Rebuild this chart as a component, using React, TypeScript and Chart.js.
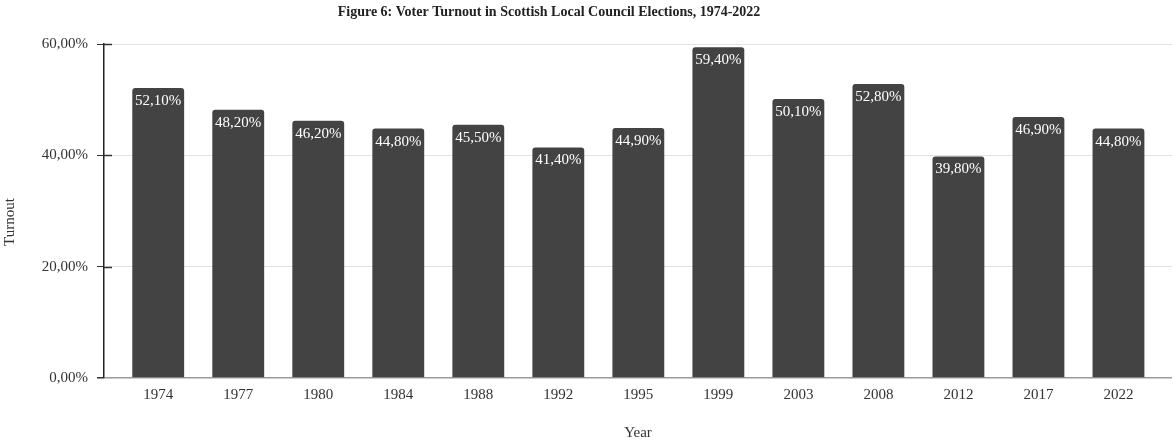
import React, { useEffect, useRef } from "react";
import { Chart, registerables } from "chart.js";

Chart.register(...registerables);

const years = ["1974", "1977", "1980", "1984", "1988", "1992", "1995", "1999", "2003", "2008", "2012", "2017", "2022"];
const turnout = [52.1, 48.2, 46.2, 44.8, 45.5, 41.4, 44.9, 59.4, 50.1, 52.8, 39.8, 46.9, 44.8];
const yTicks = [0, 20, 40, 60];
const chartTitle = "Figure 6: Voter Turnout in Scottish Local Council Elections, 1974-2022";
const xTitle = "Year";
const yTitle = "Turnout";

const FONT = "'Liberation Serif', 'Times New Roman', serif";
const fmt = (v: number) => v.toFixed(2).replace(".", ",") + "%";

export default function App() {
  const ref = useRef<HTMLCanvasElement | null>(null);

  useEffect(() => {
    if (!ref.current) return;
    const overlay = {
      id: "overlay",
      afterDatasetsDraw(chart: any) {
        const ctx = chart.ctx;
        const meta = chart.getDatasetMeta(0);
        ctx.save();
        ctx.fillStyle = "#ffffff";
        ctx.font = `15px ${FONT}`;
        ctx.textAlign = "center";
        ctx.textBaseline = "middle";
        meta.data.forEach((bar: any, i: number) => {
          ctx.fillText(fmt(turnout[i]), bar.x, bar.y + 13);
        });
        ctx.restore();
      },
      afterDraw(chart: any) {
        const ctx = chart.ctx;
        const area = chart.chartArea;
        const y = chart.scales.y;
        ctx.save();
        // dark tick stubs across the axis
        ctx.strokeStyle = "#333";
        ctx.lineWidth = 1.5;
        yTicks.forEach((t) => {
          if (t === 0) return;
          const py = Math.round(y.getPixelForValue(t)) + 0.5;
          ctx.beginPath();
          ctx.moveTo(area.left, py);
          ctx.lineTo(area.left + 8, py);
          ctx.stroke();
        });
        ctx.fillStyle = "#222";
        ctx.textAlign = "center";
        ctx.textBaseline = "middle";
        ctx.font = `bold 14px ${FONT}`;
        ctx.fillText(chartTitle, 549, 12);
        ctx.font = `15px ${FONT}`;
        ctx.fillStyle = "#333";
        ctx.fillText(xTitle, (area.left + area.right) / 2, 433);
        ctx.translate(10, 222);
        ctx.rotate(-Math.PI / 2);
        ctx.fillText(yTitle, 0, 0);
        ctx.restore();
      },
    };

    const chart = new Chart(ref.current, {
      type: "bar",
      data: {
        datasets: [
          {
            data: years.map((_, i) => ({ x: i, y: turnout[i] })),
            backgroundColor: "#434343",
            borderRadius: 3,
            barPercentage: 0.81,
            categoryPercentage: 0.8,
          },
        ],
      },
      options: {
        responsive: false,
        animation: false,
        layout: { padding: { top: 44, right: 1, left: 0, bottom: 0 } },
        plugins: { legend: { display: false }, tooltip: { enabled: false }, title: { display: false } },
        scales: {
          x: {
            type: "linear",
            min: -0.6775,
            max: 12.669,
            offset: false,
            grid: { display: false, drawTicks: false },
            border: { display: false },
            afterFit: (s: any) => { s.height = 65; },
            ticks: {
              stepSize: 1,
              maxTicksLimit: 20,
              includeBounds: false,
              autoSkip: false,
              maxRotation: 0,
              padding: 8,
              color: "#333",
              font: { family: FONT, size: 15 },
              callback: (v: any) => (Number.isInteger(v) && years[v] ? years[v] : ""),
            },
          },
          y: {
            min: 0,
            max: 60,
            afterFit: (s: any) => { s.width = 104; },
            afterBuildTicks: (s: any) => { s.ticks = yTicks.map((v) => ({ value: v })); },
            grid: {
              color: (c: any) => (c.tick && c.tick.value === 0 ? "#9a9a9a" : "#e2e2e2"),
              lineWidth: (c: any) => (c.tick && c.tick.value === 0 ? 1.5 : 1),
              tickColor: "#333",
              tickLength: 7,
            },
            border: { display: true, color: "#222", width: 1.5 },
            ticks: {
              padding: 9,
              color: "#333",
              font: { family: FONT, size: 15 },
              callback: (v: any) => fmt(Number(v)),
            },
          },
        },
      },
      plugins: [overlay],
    } as any);
    return () => chart.destroy();
  }, []);

  return (
    <div style={{ position: "fixed", left: 0, top: 0, width: 1173, height: 443, background: "#fff" }}>
      <canvas ref={ref} width={1173} height={443} style={{ display: "block" }} />
    </div>
  );
}
